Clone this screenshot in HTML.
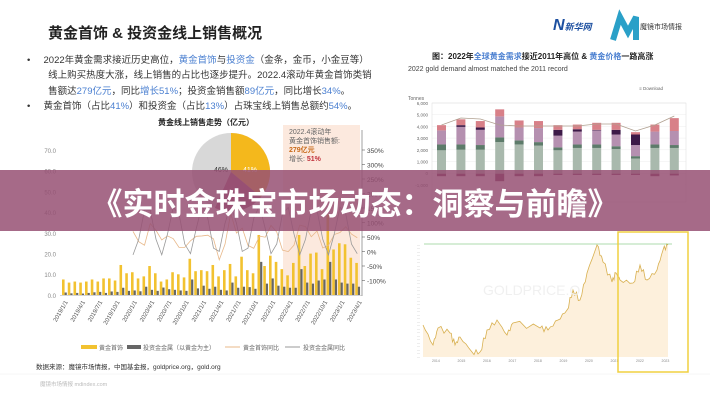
<!DOCTYPE html>
<html><head><meta charset="utf-8">
<style>
body{margin:0;width:710px;height:400px;overflow:hidden;background:#fff;font-family:"Liberation Sans","Noto Sans CJK SC",sans-serif;position:relative}
.a{position:absolute;white-space:nowrap}
</style></head><body>
<svg id="s" width="710" height="400" style="position:absolute;left:0;top:0" font-family="Liberation Sans, Noto Sans CJK SC, sans-serif"></svg>
<div class="a" style="left:48px;top:22px;font-size:15px;font-weight:bold;color:#222">黄金首饰 &amp; 投资金线上销售概况</div>
<div class="a" style="left:27px;top:53px;font-size:9.5px;line-height:15.3px;color:#333">
•&nbsp;&nbsp;&nbsp;&nbsp;&nbsp;2022年黄金需求接近历史高位，<span style="color:#4a7fd0">黄金首饰</span>与<span style="color:#4a7fd0">投资金</span>（金条，金币，小金豆等）<br>
&nbsp;&nbsp;&nbsp;&nbsp;&nbsp;&nbsp;&nbsp;&nbsp;线上购买热度大涨，线上销售的占比也逐步提升。2022.4滚动年黄金首饰类销<br>
&nbsp;&nbsp;&nbsp;&nbsp;&nbsp;&nbsp;&nbsp;&nbsp;售额达<span style="color:#4a7fd0">279亿元</span>，同比<span style="color:#4a7fd0">增长51%</span>；投资金销售额<span style="color:#4a7fd0">89亿元</span>，同比增长<span style="color:#4a7fd0">34%</span>。<br>
•&nbsp;&nbsp;&nbsp;&nbsp;&nbsp;黄金首饰（占比<span style="color:#4a7fd0">41%</span>）和投资金（占比<span style="color:#4a7fd0">13%</span>）占珠宝线上销售总额约<span style="color:#4a7fd0">54%</span>。</div>
<div class="a" style="left:158px;top:117px;font-size:8px;font-weight:bold;color:#222">黄金线上销售走势（亿元）</div>
<div class="a" style="left:289px;top:128px;font-size:7px;line-height:9px;color:#666">2022.4滚动年<br>黄金首饰销售额:<br><b style="color:#c86a1a">279亿元</b><br>增长: <b style="color:#c0303a">51%</b></div>
<div class="a" style="left:36px;top:361px;font-size:6.5px;color:#333">数据来源：魔镜市场情报，中国基金报，goldprice.org，gold.org</div>
<div class="a" style="left:40px;top:380px;font-size:5.5px;color:#bbb">魔镜市场情报 mdindex.com</div>
<div class="a" style="left:432px;top:51px;font-size:8px;font-weight:bold;color:#222">图：2022年<span style="color:#4a7fd0">全球黄金需求</span>接近2011年高位 &amp; <span style="color:#4a7fd0">黄金价格</span>一路高涨</div>
<div class="a" style="left:408px;top:66px;font-size:7px;color:#444">2022 gold demand almost matched the 2011 record</div>
<div class="a" style="left:553px;top:17px;font-size:16px;font-weight:bold;color:#1c4fa0;font-style:italic">N<span style="font-size:9px">新华网</span></div>
<div class="a" style="left:640px;top:22px;font-size:7px;color:#333">魔镜市场情报</div>
<div style="position:absolute;left:0;top:170px;width:710px;height:61px;background:rgba(150,80,115,0.85)"></div>
<div class="a" style="left:0;top:179px;width:710px;text-align:center;font-size:31px;font-weight:bold;color:#fff">《实时金珠宝市场动态：洞察与前瞻》</div>
<script>
var s=document.getElementById('s'),h='';
function r(x,y,w,hh,c,o){h+='<rect x="'+x+'" y="'+y+'" width="'+w+'" height="'+hh+'" fill="'+c+'"'+(o?' opacity="'+o+'"':'')+'/>';}
function t(x,y,str,sz,c,a,rot){h+='<text x="'+x+'" y="'+y+'" font-size="'+sz+'" fill="'+c+'"'+(a?' text-anchor="'+a+'"':'')+(rot?' transform="rotate('+rot+' '+x+' '+y+')"':'')+'>'+str+'</text>';}
// left chart
r(283,125,77,170,'#fbe3d6',0.8);
for(var i=0;i<8;i++){t(56,153+i*20.7,(70-10*i).toFixed(1),6,'#888','end');}
var rl=['350%','300%','250%','200%','150%','100%','50%','0%','-50%','-100%'];
for(i=0;i<10;i++){t(367,153+i*14.5,rl[i],6.5,'#444');h+='<line x1="362" x2="365" y1="'+(150+i*14.5)+'" y2="'+(150+i*14.5)+'" stroke="#444" stroke-width=".5"/>';}
h+='<line x1="362" x2="362" y1="130" y2="296" stroke="#444" stroke-width=".5"/>';
var g=[7.5,6,6.5,6,6.5,7.5,6.5,8,8,7,14.5,10.5,11,8,9,14,10.5,6.5,7.5,11,10,8.5,17.5,11.5,12,11.5,14.5,9,12,15,9,18.5,12,10.5,29,14,19,16,12.5,9.5,15.5,29,14,20,20.5,12.5,39,22,25,24.5,18,15.5];
var inv=[1.2,.8,1,.7,1,1.3,1.5,1,1.7,1.5,3.5,2,2.2,1.8,4,2.5,2,3.6,2.8,2.5,2.2,2,7.5,3.2,4.5,3,4,2.5,2.2,6,3.5,4,3.8,3,16,5.5,8,4.5,4,3.5,3.5,12.5,6,5.5,7,7.5,16,7.5,6,5.5,5.5,4];
var x0=62,dx=5.75,py=295,k=2.07;
for(i=0;i<g.length;i++){var x=x0+i*dx;r(x,py-g[i]*k,2.6,g[i]*k,'#f2c230');r(x+2.6,py-inv[i]*k,2.2,inv[i]*k,'#666');}
var p1='',p2='';for(i=12;i<g.length;i++){var x=x0+i*dx+2;p1+=x+','+(245-((g[i]-g[i-12])/g[i-12])*20+Math.sin(i)*8)+' ';p2+=x+','+(230-Math.cos(i*1.3)*25)+' ';}
h+='<polyline points="'+p1+'" fill="none" stroke="#e8b88a" stroke-width=".8"/><polyline points="'+p2+'" fill="none" stroke="#999" stroke-width=".8"/>';
h+='<line x1="60" x2="362" y1="295.5" y2="295.5" stroke="#aaa" stroke-width=".5"/>';
var lb=['2019/1/1','2019/4/1','2019/7/1','2019/10/1','2020/1/1','2020/4/1','2020/7/1','2020/10/1','2021/1/1','2021/4/1','2021/7/1','2021/10/1','2022/1/1','2022/4/1','2022/7/1','2022/10/1','2023/1/1','2023/4/1'];
for(i=0;i<lb.length;i++){var x=68+i*17.3;t(x,302,lb[i],6,'#555','end',-60);}
r(81,345,16,4,'#f2c230');t(99,350,'黄金首饰',6,'#666');r(127,345,14,4,'#666');t(143,350,'投资金金属（以黄金为主）',6,'#666');
h+='<line x1="225" x2="240" y1="347" y2="347" stroke="#e8b88a"/>';t(243,350,'黄金首饰同比',6,'#666');h+='<line x1="285" x2="300" y1="347" y2="347" stroke="#999"/>';t(303,350,'投资金金属同比',6,'#666');
// pie
h+='<circle cx="231" cy="172" r="39" fill="#d8d8d8"/><path d="M231,172 L231,133 A39,39 0 0 1 261,197 Z" fill="#f4b81c"/><path d="M231,172 L261,197 A39,39 0 0 1 215,208 Z" fill="#a05070"/>';
t(214,172,'46%',7,'#333');t(243,172,'41%',7,'#fff');
h+='<line x1="0" x2="710" y1="374" y2="374" stroke="#eee" stroke-width=".5"/>';
// logo M
h+='<path d="M613,40 L620,17 L628,32 L636,17 L636,40" fill="none" stroke="#2aa0c8" stroke-width="6"/>';
// right top chart
t(408,100,'Tonnes',5,'#666');
for(i=0;i<8;i++){var y=103+i*11.7;t(428,y+2,(6-i)*1000===0?'0':((6-i)*1000).toLocaleString(),4.5,'#666','end');h+='<line x1="432" x2="686" y1="'+y+'" y2="'+y+'" stroke="#eee" stroke-width=".5"/>';}
h+='<rect x="432" y="103" width="254" height="99" fill="none" stroke="#ddd" stroke-width=".5"/>';
var B=[[2000,500,1200,0,450,100],[2050,450,1500,150,500,0],[2050,400,1300,200,550,0],[2700,400,1800,0,600,0],[2500,350,1100,0,600,0],[2400,300,1200,0,600,0],[2000,250,1000,500,400,0],[2200,300,1100,200,400,0],[2200,300,1200,50,600,0],[2100,250,1000,400,600,0],[1300,200,950,900,200,0],[2200,300,1100,0,600,0],[2200,250,1200,0,1100,0]];
var cols=['#a9b9ad','#5d7b6a','#b590b0','#3d1a48','#d88088'];var pts='';
for(i=0;i<13;i++){var x=437+i*19.4,y=173.7;for(var j=0;j<5;j++){var hh=B[i][j]*0.0117;y-=hh;r(x,y,9,hh,cols[j]);}r(x,173.7,9,[1,1,1,3,1,1,.5,.5,.5,.5,.5,1,.7][i]*2.5,'#6a2048');pts+=(x+4.5)+','+[125,118,119,125,126,126,126,126,124,124,131,125,116][i]+' ';}
h+='<polyline points="'+pts+'" fill="none" stroke="#b0a090" stroke-width=".8"/>';
t(663,90,'≡ Download',4.5,'#666','end');
// bottom right chart
var kp=[[423,325],[433,345],[438,328],[450,333],[455,345],[460,337],[472,352],[480,352],[487,330],[497,320],[507,335],[513,323],[540,328],[548,330],[558,320],[567,310],[573,290],[580,300],[587,273],[597,245],[603,262],[612,282],[616,273],[620,280],[633,283],[640,265],[647,280],[657,270],[663,250],[668,245]];
var pp=[];for(i=0;i<kp.length-1;i++){var a=kp[i],b=kp[i+1];for(var q=0;q<4;q++){var f=q/4;pp.push((a[0]+(b[0]-a[0])*f).toFixed(1)+','+(a[1]+(b[1]-a[1])*f+(q?Math.sin(i*7+q*3)*3:0)).toFixed(1));}}pp.push('668,245');
h+='<polygon points="423,357 '+pp.join(' ')+' 668,357" fill="#fdf0dc"/><polyline points="'+pp.join(' ')+'" fill="none" stroke="#d8b050" stroke-width=".8"/>';
h+='<line x1="424" x2="672" y1="244" y2="244" stroke="#5cb85c" stroke-width=".6"/>';
for(i=0;i<33;i++)t(420,246+i*3.5,'—',3,'#aaa','end');
var yr=['2014','2015','2016','2017','2018','2019','2020','2021','2022','2023'];for(i=0;i<10;i++)t(432+i*25.5,362,yr[i],3.5,'#888');
t(483,295,'GOLDPRICE.O',14,'#f0f0f0');
h+='<rect x="618" y="232" width="70" height="140" fill="none" stroke="#f0d040" stroke-width="1.5"/>';
s.innerHTML=h;
</script>
</body></html>
